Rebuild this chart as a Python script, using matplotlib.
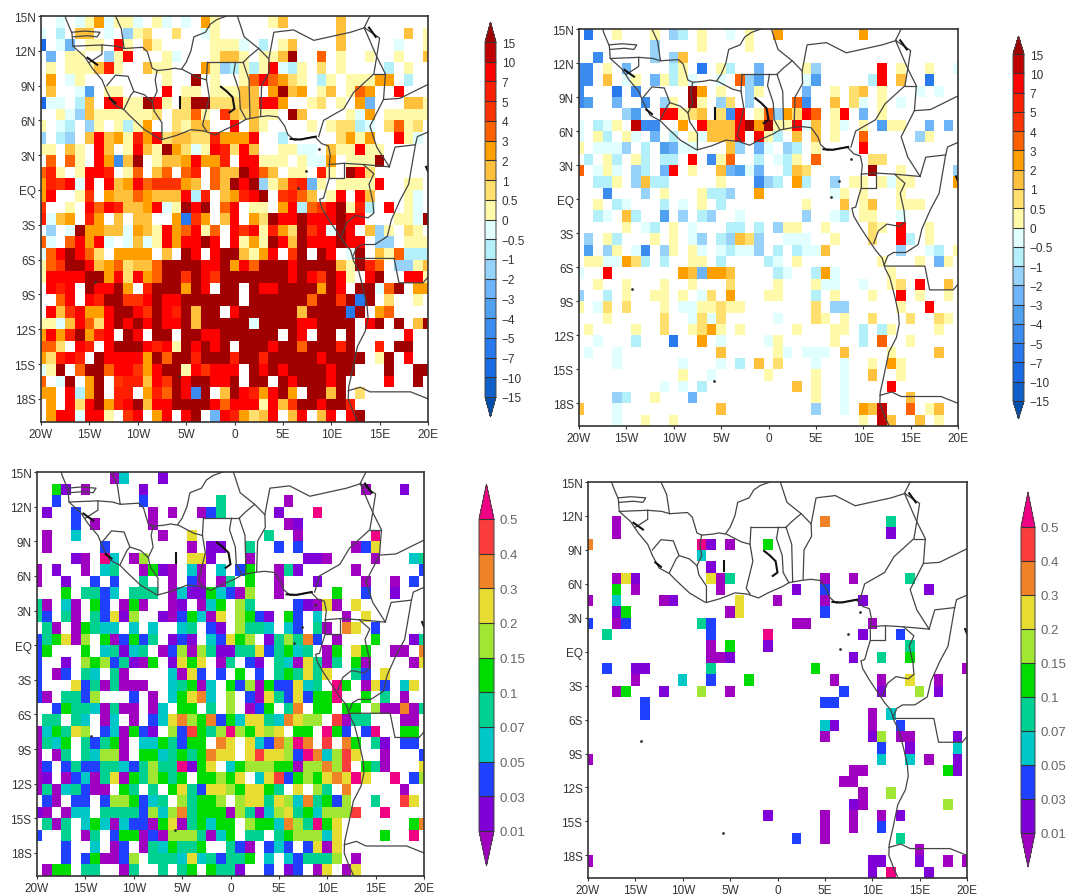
import numpy as np
import matplotlib
matplotlib.use("Agg")
import matplotlib.pyplot as plt
from matplotlib.colors import ListedColormap, BoundaryNorm
from matplotlib.cm import ScalarMappable

plt.rcParams['font.family'] = ['Liberation Sans', 'DejaVu Sans']
W, H = 1067, 895

# class codes per 1-degree cell, rows from 15N southward, columns 20W..20E; '.' = missing
P1 = """
..A.AadAaa A.aA.A.da. ....ac.... .c.........
A.B.cc.A.C ab..b..Aa. .......... .c......c.a
H.AD.aa.ha .ca.....aa aA.B.ac... .c.....A..a
.D.aa..Cah ...aA...ac ca.aaci..e .a..a..a..c
.a.aaacga. .caa...daC BaBahABa.b .a....B.a..
.d.Aa..... ...a..i.a. .aehedba.B a.aaadd.B..
.c..AE.aa. ...h.aa.aa acc.dicd.a c.aed..h...
HAA.Bc.hha aiha.biibb bcchhd..ab .a.dD...cca
..aACcaaaa aab.bbea.f cbcaa.ic.. ..aAd.aaaaa
a.AB.Ca.aB ad..bacc.. h.ca....a. abbBA.beab.
C.BC.chcda gdhbccbbgd ddh..B.... .bdad..haA.
aa.ca.hc.a hcaidbAahg bhc..aaAA. caahaa.....
.e.ea.hdFc i.accdhddg .hhaaa.aAA d.aaai.....
ega.ahhg.a e.ce.eg.ec cihec.aa.g a.ihb......
dgfhAh.hcd hefffdc.ec ihiCacfgDa .aaaah..aa.
dh..af.dcc edccchBg.c dghi.fgec. ah.hc...aA.
f..a.hehgc cdhAaihi.e h.aa.dhBef hiagB.h.aA.
gAcd.gd.c. cc..dGfd.c h.dbihhihh hihh...aaAi
.C.AiddccA dcahdehae. hfhagdbifh Aih.cCa.ba.
eA.ehdhA.A cAahdhhih. hadaihcihh hihh.CC.aaa
Aehiheb.dd dd.c.ih.hi icadh.fi.i h.Ai.caeBBB
aefiihcdeb cceiiiihhi dheiiihiii icaige.CCac
ahhhhiidhb hdeiifihfi iiiiiihihf iha.hi..hha
.hgh.ihhid .giiidih.i i.ihhiiiid ih.iiAei.dd
..eh.hgiif fhihhiiiii i.iiiiiiei ifiGi.b..a.
.hcfhddhii hfihgicii. hiiiiiicii iiGi.de....
aaAchebhih ihihhiciii iiAiiiihhi iii.hi.i.ci
dhdgidgh.i h.ii.iihhi iiiii.ih.i i.i.....h..
eeb.hg.hii ihghaihihi .iiihiieii igi..g.ii..
dbghg.ihhh hdieiigiii giigiiiiih iiii.ai.h..
Aai.eiiehh fdhiiahfhh h.ihihiiii hii...i..ii
e.Ai.di.fg gchfihiihh i.ii.ihiii hi....h..i.
dd.hBdi.gg .dgeihFi.c ihgdhid.ii ci.b.......
.d.hbhidgh ichhiiiihe hhhahcfiih iig........
.dhhAhha.f h.dh.hi.Dh gdbch.ch.c h.hi.......
"""

P2 = """
.G..a...a. CB.a..A.a. .d........ d..........
........C. ...a....a. .......... ...........
..F.....C. Cc........ .......... ...........
FF.a.D.... Ba.G.aB..D ....aC.... ..h.a..a..A
FF.c.Aa.Da BaA..A.eCE ....AE.... .Bh.c..G...
F...G.F... ..id.a..Ca ....D..a.b c.a...A.A..
FE..D..F.C a.ia.Cb.C. ...eF..c.b A.a.A......
.....CE..h habc.bFh.a eCdbhe.ah. D.a........
A.BAa.jFF. .d.hccchid iaahAc.aA. a.Eaa..D.D.
A.aB.aA.D. B.aAccch.h aB.c.c.a.. e.....Ca...
a.AAAC.B.E DAA...cC.D A.CB.a.... h..........
.B.aB.aB.B B.h.Fae..B .ABa.e.... .bb........
e.AaA.CB.D h.a..cDEAD ..Bcb..... .i..a.....C
..BBa.CcBB .....a...F CB.dB..C.a a.aAaa....d
...F...C.a ...aBBC..d .......Aa. a...a......
..a.BA...B .A.a.B.... ....a...c. ac..aaa....
..BA.cB..E .C.BC..A.. ....C..AB. aa..A......
.....a.AB. a.A...BB.B .Caa..a... .ba.h..a...
.C.aB...a. a.AC.BCcbC ..AAA..a.. .b..hB.a...
.E.Ca.AF.C a.aA.ABAAC .B.BAAc... ....C..AB.a
.aaAAdbB.B ..aa.B.... BA.a...... ..a...a.Da.
A..h...... .dcDddc... .BA..BdA.. ...a.......
..a..a...a ..a...b... .a...aAA.. A..ab.h..c.
C..B.a..aa .a.Ab.d... aa...B.a.. .a..h.a..a.
a.Ab.b...a .AAaabaa.. .....b.CC. ....a..h...
...a.....b ..AbAb.... .A...ba.a. .b...b..ba.
.a....a..b ..abda.a.. ...a...aa. B.Ba....a..
..A...B... G..d.A.... Aa.....a.. B.e..a.....
.A..A..... .....c.... .aA.AAA.c. ...a....c..
....A..... .A...A.B.c .b...A..A. .a.da......
.......... .a..A..... a....a..A. .c..a......
.........A .A.B...... ...c.a..A. ...h.......
....CB..a. ..D....... .....a..A. .....c.....
c...A..... .....c.... .....C..A. dcj..e.ac..
....A..a.. a......... .......... a.jc..c.a..
"""

P3 = """
........03 ...1...... .......... ...........
..51.0.... .1........ .......... ....0...1..
..2....... .2.......4 ......0... ...........
.1..2..... ..0.0..024 .....1...x ...........
....2.0... ..0....... ......01.. ...........
.0..3..... ...0..7... ....4..0.. .....x.....
.0.....2.. ......0.11 ..4..2.2.. ...027.....
....10.x3. 06....771. ..0.....11 0....0...34
0.1..0.34. .0510.30.3 .25..041.. ...0......2
0..1..2.2. .4..0.20.0 4.5..0...1 ....0..0.2.
...5.4423. 444.031153 206..0.... .5..2..1...
40.30.52.0 50..01.035 .64....210 70.7.......
42.40.4271 6..1025307 .6521.52.3 ..0.7......
.40.05433. 3.3..34.21 .6443.32.4 0.87.2.....
245706.502 524.121.32 756.146482 .0...5...14
25...5.341 34.0260641 144724534. 05.75..00.8
2..1.65624 105.1757.0 4.21.43074 04.50....07
2.02.43.40 ....3072.2 .5.2.45474 7..42.7....
2...724040 00..34503. 5260522734 .x5.072.37.
20.4426... 2.0.35783. 6.20742725 5x..5.4.0..
..25443040 0.03.55.4. 6.025.48.5 5.55.600804
.44.43.03. 0.23786582 5377438766 .9044...00.
035476.230 521.629546 x65767.55. x52.2x..55.
0435.42450 .3354255.8 7.73286x8. 9.85.41.22.
0.04.43660 .553454587 7.797762x8 3697..0...2
02.2422443 24644x157. 3566655066 869.540...7
01.0230470 546545.556 57.3792565 787x7..x.26
04034200.5 4.4.574277 657754.7.6 4.8.....0..
.20.22.266 5234.64556 .677476384 526..4..97.
10.033.444 4263684555 0640367453 6669..x....
.404.35303 2205704535 5.6553864x 57.......58
2..4.04.25 5020666403 5.44.45666 37....5..x.
...2..3.02 .0435445.. 420.232.27 07.........
...2.25002 6.44437342 445.3.3244 46.0.......
.055.44..0 4..4.45.54 41..2.12.0 7.07.......
"""

# sparse panel: row -> {column: class code}
P4 = {
 3:{3:'0',25:'8',32:'4'}, 4:{3:'0',32:'1'}, 5:{0:'8',12:'x',13:'1',15:'0',19:'5'},
 6:{12:'3'}, 7:{13:'1'}, 8:{3:'0',4:'7',5:'1',13:'7',14:'0',15:'4',25:'0',28:'0',34:'4'},
 9:{3:'5',5:'0',14:'0',22:'1',25:'2',36:'1'}, 10:{0:'0',3:'3',8:'0',9:'1',16:'7',20:'0',25:'0',29:'1'},
 11:{3:'1',4:'5',15:'0',16:'7',25:'2'}, 12:{0:'2',3:'0',4:'2',12:'4',13:'2',22:'0',23:'0',30:'0'},
 13:{2:'4',13:'2',19:'x',29:'1',33:'2'}, 14:{13:'0',15:'5',19:'1',34:'4'},
 15:{13:'0',14:'0',15:'1',28:'1',31:'4',34:'5'}, 16:{2:'2',5:'1',6:'1',13:'4',24:'5',40:'0'},
 17:{5:'0',10:'3',13:'2',17:'5',26:'0',31:'0',34:'7',37:'0'},
 18:{3:'0',4:'5',8:'1',12:'6',15:'0',27:'2',31:'1',35:'6',37:'1'}, 19:{6:'2',25:'2',26:'2'},
 20:{6:'2',30:'0',32:'3'}, 21:{25:'3',26:'1',30:'0',33:'2'},
 22:{25:'0',30:'1',31:'6',33:'0',34:'0',39:'1'}, 23:{31:'2',34:'1',39:'3'},
 24:{0:'0',31:'3',34:'3',36:'0',39:'1'}, 25:{28:'0',29:'0',38:'5',39:'1'}, 26:{27:'0',28:'0'},
 27:{29:'0',32:'6'}, 28:{28:'1',29:'0',38:'6'}, 29:{19:'1',25:'0',28:'0',31:'0',33:'1'},
 30:{25:'0',28:'0',31:'2'}, 31:{22:'2',25:'0',33:'4'}, 32:{35:'0'},
 33:{0:'0',30:'1',31:'1',35:'1',38:'0',40:'0'}, 34:{30:'1',32:'x',36:'1'},
}

TEMP_VALUE = dict(zip("JIHGFEDCBAabcdefghji",
    [-20,-12,-8.5,-6,-4.5,-3.5,-2.5,-1.5,-.75,-.25,.25,.75,1.5,2.5,3.5,4.5,6,8.5,12,20]))
RAIN_VALUE = dict(zip("0123456789x", [.005,.02,.04,.06,.085,.125,.175,.25,.35,.45,.7]))

TEMP_LEVELS = [-15,-10,-7,-5,-4,-3,-2,-1,-.5,0,.5,1,2,3,4,5,7,10,15]
TEMP_COLORS = ['#0F60C8','#1A6AE6','#2878EE','#3C8CF0','#50A0F0','#6EB4F8','#96D2FA','#B4F0FA',
               '#E1FFFF','#FFFAAA','#FFE06E','#FFC03C','#FFA000','#FF6000','#FF3200','#FF1E00','#FF0000','#C00000']
TEMP_UNDER, TEMP_OVER = '#0050B0', '#A00000'
TEMP_LABELS = ['\u221215','\u221210','\u22127','\u22125','\u22124','\u22123','\u22122','\u22121','\u22120.5',
               '0','0.5','1','2','3','4','5','7','10','15']

RAIN_LEVELS = [.01,.03,.05,.07,.1,.15,.2,.3,.4,.5]
RAIN_COLORS = ['#8000D8','#2040FF','#00C8C8','#00D090','#00DC00','#A0E632','#E6DC32','#F08228','#FA3C3C']
RAIN_UNDER, RAIN_OVER = '#A000C0', '#F00082'
RAIN_LABELS = ['0.01','0.03','0.05','0.07','0.1','0.15','0.2','0.3','0.4','0.5']

LON_TICKS = [-20,-15,-10,-5,0,5,10,15,20]
LON_LABELS = ['20W','15W','10W','5W','0','5E','10E','15E','20E']
LAT_TICKS = [15,12,9,6,3,0,-3,-6,-9,-12,-15,-18]
LAT_LABELS = ['15N','12N','9N','6N','3N','EQ','3S','6S','9S','12S','15S','18S']

COAST = [(-17.5,15),(-17.4,14.7),(-16.8,13.5),(-16.7,12.4),(-15.5,11.5),(-14.7,10.5),(-13.7,9.5),(-13.2,8.5),
 (-12.5,7.4),(-11.4,6.9),(-10.7,6.3),(-9.3,5.2),(-7.7,4.4),(-7.5,4.35),(-6,4.7),(-4.5,5.2),(-3.2,5.1),(-2,4.75),
 (-1,5.2),(0.5,5.75),(1.2,6.1),(2.5,6.3),(3.5,6.4),(4.5,6.3),(5.2,5.5),(5.5,4.8),(6.2,4.3),(7,4.4),(8.3,4.6),
 (9,4),(9.7,3.8),(9.9,3),(9.8,2.2),(9.8,1),(9.5,0.2),(9.2,-0.7),(8.8,-0.8),(9,-1.5),(9.7,-2.5),(10.5,-3.5),
 (11.3,-4.5),(12,-5.2),(12.2,-5.8),(12.3,-6.1),(12.8,-6.9),(13.3,-8.5),(13.7,-10),(13.8,-11),(13.5,-12.2),
 (12.7,-13.5),(12.2,-15.5),(11.8,-17),(11.75,-18),(12.2,-19),(13,-20.5)]
BORDERS = [
 [(-16.8,13.6),(-15.5,13.7),(-13.9,13.6),(-14.2,13.2),(-15.2,13.3),(-16.7,13.2)],
 [(-16.7,12.4),(-13.7,12.5),(-12.2,12.4),(-11.4,12.2)],
 [(-13.7,12.5),(-13.7,11.7),(-15,11)],
 [(-12.3,15),(-11.7,13.9),(-11.4,12.2),(-9.5,12.3),(-9,11.9),(-8.5,10.5),(-8,10.3),(-6.8,10.4),(-6.2,10.5),
  (-5.5,10.4),(-5,11),(-4.5,12),(-4.2,13.2),(-3,13.6),(-2.5,14.3),(-1.8,14.7),(-0.8,15)],
 [(-13.2,9),(-12.3,9.9),(-11,9.8),(-10.4,8.5),(-10.7,8.2),(-11.4,7)],
 [(-10.4,8.5),(-9.3,8.2),(-8.5,7.6),(-8.3,6.8),(-7.5,5.8),(-7.5,4.35)],
 [(-8.5,7.6),(-8,8.5),(-8.2,9.5),(-8,10.3)],
 [(-2.8,11),(-2.9,9.5),(-2.6,8),(-3.3,5.6),(-2.9,5.1)],
 [(-5.4,10.4),(-3.8,9.7),(-2.9,9.5)],
 [(-2.8,11),(0.1,11),(0.9,11)],
 [(0.1,11),(-0.1,10),(0.5,8.5),(0.6,7),(1.2,6.1)],
 [(0.9,11),(1.5,9.5),(1.6,6.2)],
 [(0.3,15),(1,13.2),(2.5,12.2),(3.55,11.3),(3.6,10.2),(2.8,9),(2.7,6.4)],
 [(0.9,11),(1.5,11.5),(2.5,12.2)],
 [(3.55,11.3),(4.07,13.6),(6.1,13.8),(8.2,12.9),(12,13.6),(13.5,14)],
 [(14,15),(13.4,14),(15,13.1),(14.7,11.5),(15.6,10),(15.4,7.8),(14,5.5),(14.7,3.7),(16,2)],
 [(13.4,14),(14.7,11.5),(14.4,10),(12.3,8.4),(11.3,7),(9.2,6),(8.7,4.6)],
 [(14.4,10),(15.6,10)],
 [(9.8,2.2),(11.3,2.3),(13.3,2.2),(16,2)],
 [(11.3,2.3),(11.3,1),(9.8,1)],
 [(13.3,2.2),(14.4,1.4),(13.9,0.5),(14.3,-1),(14.4,-2),(13.8,-2.4),(12.5,-2.2),(11.6,-2.8),(11.1,-3.9)],
 [(15.4,7.8),(17.1,7.9),(20,9.1)],
 [(16,2),(16.6,3.7),(18.7,3.9),(18.9,4.6),(20,5)],
 [(18.7,3.9),(18,0.5),(17.1,-0.9),(16.2,-2.6),(15.8,-4),(14.5,-4.7),(13.2,-4.7),(12.6,-5),(12.2,-5.8)],
 [(12.3,-5.9),(13.4,-5.9),(16.5,-5.9),(17,-8),(19.5,-8),(20,-7.5)],
 [(11.75,-17.3),(13,-17),(14,-17.4),(18.2,-17.4),(20,-18)],
]
LAKES = [[(-1.4,8.9),(-0.8,8.5),(-0.2,8),(0,7),(-0.5,6.7)], [(-5.6,8),(-5.6,7.1)], [(5.8,4.4),(6.8,4.35),(8.4,4.6)],
         [(-15.2,11.4),(-14.2,10.8)], [(-12.9,7.9),(-12.3,7.5)], [(13.9,14),(14.6,13.2)], [(19.8,2),(20,1.6)]]
ISLES = [(8.7,3.5),(6.6,0.2),(7.4,1.6),(-5.7,-16),(-14.4,-7.9)]


def px_axes(x0, x1, y0, y1):
    return fig.add_axes([x0/W, 1-y1/H, (x1-x0)/W, (y1-y0)/H])


def grid_from_rows(text, table):
    rows = [r.replace(' ', '').ljust(41, '.')[:41] for r in text.strip().splitlines()]
    return np.array([[table.get(ch, np.nan) for ch in r] for r in rows])


def grid_from_cells(cells, table):
    out = np.full((35, 41), np.nan)
    for r, row in cells.items():
        for c, code in row.items():
            out[r, c] = table[code]
    return out


def map_panel(box, data, cmap, norm):
    ax = px_axes(*box)
    lon = np.arange(-20.5, 21)
    lat = np.arange(15, -21, -1)
    ax.pcolormesh(lon, lat, np.ma.masked_invalid(data), cmap=cmap, norm=norm, linewidth=0)
    for line in BORDERS + [COAST]:
        a = np.array(line)
        ax.plot(a[:, 0], a[:, 1], color='#444444', lw=0.9, solid_joinstyle='round')
    for line in LAKES:
        a = np.array(line)
        ax.plot(a[:, 0], a[:, 1], color='#111111', lw=1.5)
    isl = np.array(ISLES)
    ax.plot(isl[:, 0], isl[:, 1], ls='none', marker='o', ms=1.0, color='#333333')
    ax.set_xlim(-20, 20)
    ax.set_ylim(-20, 15)
    ax.set_xticks(LON_TICKS, LON_LABELS)
    ax.set_yticks(LAT_TICKS, LAT_LABELS)
    ax.tick_params(length=2.5, width=0.8, labelsize=8.5, pad=1.5, colors='#333333')
    for s in ax.spines.values():
        s.set_linewidth(1.2)
        s.set_color('#333333')
    return ax


def bar(box, rect_top, rect_bot, cmap, norm, levels, labels, fs, lc):
    cax = px_axes(*box)
    frac = [(box[3]-rect_bot)/(rect_bot-rect_top), (rect_top-box[2])/(rect_bot-rect_top)]
    cb = fig.colorbar(ScalarMappable(norm=norm, cmap=cmap), cax=cax, extend='both',
                      extendfrac=frac, spacing='uniform', drawedges=True)
    cb.set_ticks(levels, labels=labels)
    cb.ax.minorticks_off()
    cb.ax.tick_params(length=0, labelsize=fs, pad=4, labelcolor=lc)
    cb.outline.set_linewidth(0.7)
    cb.outline.set_edgecolor('#444444')
    cb.dividers.set_linewidth(0.8)
    cb.dividers.set_color('#333333')


def make_cmap(colors, under, over):
    cm = ListedColormap(colors)
    cm.set_under(under)
    cm.set_over(over)
    return cm


fig = plt.figure(figsize=(W/100, H/100), dpi=100)
tcm = make_cmap(TEMP_COLORS, TEMP_UNDER, TEMP_OVER)
tn = BoundaryNorm(TEMP_LEVELS, len(TEMP_COLORS))
rcm = make_cmap(RAIN_COLORS, RAIN_UNDER, RAIN_OVER)
rn = BoundaryNorm(RAIN_LEVELS, len(RAIN_COLORS))

map_panel((41, 428, 17, 423), grid_from_rows(P1, TEMP_VALUE), tcm, tn)
map_panel((579, 958, 30, 427), grid_from_rows(P2, TEMP_VALUE), tcm, tn)
map_panel((37, 424, 473, 877), grid_from_rows(P3, RAIN_VALUE), rcm, rn)
map_panel((588, 967, 483, 879), grid_from_cells(P4, RAIN_VALUE), rcm, rn)

bar((485, 496, 23, 418), 43, 398, tcm, tn, TEMP_LEVELS, TEMP_LABELS, 8.5, '#333333')
bar((1013, 1024, 37, 420), 55, 402, tcm, tn, TEMP_LEVELS, TEMP_LABELS, 8.5, '#333333')
bar((479, 494, 485, 867), 520, 832, rcm, rn, RAIN_LEVELS, RAIN_LABELS, 9.5, '#666666')
bar((1021, 1035, 493, 868), 528, 834, rcm, rn, RAIN_LEVELS, RAIN_LABELS, 9.5, '#666666')

fig.savefig('out.png', dpi=100)
